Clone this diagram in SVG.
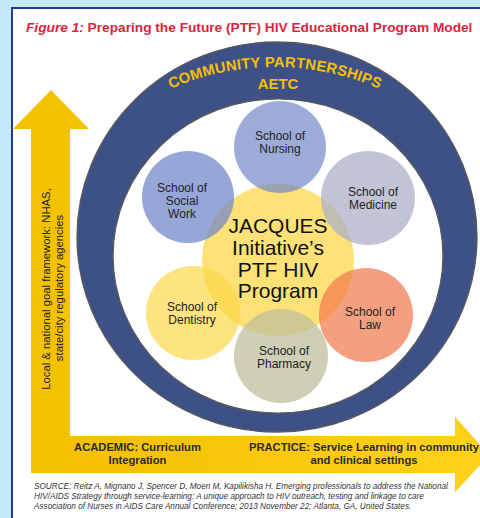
<svg xmlns="http://www.w3.org/2000/svg" width="480" height="518" viewBox="0 0 480 518">
  <defs>
    <linearGradient id="hgrad" x1="0" y1="0" x2="1" y2="0">
      <stop offset="0" stop-color="#f4c000"/>
      <stop offset="1" stop-color="#ffd21a"/>
    </linearGradient>
    <path id="ringArc" d="M15,327 A260,260 0 0 1 535,327"/>
  </defs>
  <style>
    .sat { font-family: "Liberation Sans", Arial, sans-serif; font-size: 12px; fill: #222; text-anchor: middle; }
    .core { font-family: "Liberation Sans", Arial, sans-serif; font-size: 21px; fill: #111; text-anchor: middle; }
    .ringtxt { font-family: "Liberation Sans", Arial, sans-serif; font-size: 14.8px; font-weight: bold; fill: #f6c000; }
    .axis { font-family: "Liberation Sans", Arial, sans-serif; font-size: 11.2px; font-weight: bold; fill: #2a2a2a; text-anchor: middle; }
    .src { font-family: "Liberation Sans", Arial, sans-serif; font-size: 8.2px; font-style: italic; fill: #333; }
  </style>

  <!-- background & frame -->
  <rect x="0" y="0" width="480" height="518" fill="#c6e9f9"/>
  <rect x="12" y="8" width="480" height="530" fill="#ffffff" stroke="#1f3c96" stroke-width="2"/>

  <!-- title -->
  <text x="26" y="32" font-family="'Liberation Sans', Arial, sans-serif" font-size="13.7" font-weight="bold" fill="#d7263d"><tspan font-style="italic">Figure 1:</tspan> Preparing the Future (PTF) HIV Educational Program Model</text>

  <!-- axes arrows -->
  <g id="axes">
    <polygon points="51,90 89,129 70,129 70,436 455,436 455,417 489,455 455,492 455,473 31,473 31,129 13,129" fill="#f4c200"/>
    <polygon points="70,436 455,436 455,417 489,455 455,492 455,473 70,473" fill="url(#hgrad)"/>
  </g>

  <!-- community ring -->
  <g id="ring">
    <path d="M77,237 A200,195 0 1 0 477,237 A200,195 0 1 0 77,237 Z M113,256 A165,157 0 1 1 443,256 A165,157 0 1 1 113,256 Z" fill="#3e5186" fill-rule="evenodd" stroke="#5a5a5a" stroke-width="1.3"/>
    <text class="ringtxt" letter-spacing="0.2"><textPath href="#ringArc" startOffset="50%" text-anchor="middle">COMMUNITY PARTNERSHIPS</textPath></text>
    <text class="ringtxt" x="278" y="89" text-anchor="middle">AETC</text>
  </g>

  <!-- central program -->
  <g id="core">
    <circle cx="278" cy="260" r="76" fill="#fdd84a" fill-opacity="0.75"/>
  </g>

  <g id="nursing">
    <circle cx="280" cy="147" r="46" fill="#7388c8" fill-opacity="0.7"/>
    <text class="sat" x="280" y="140">School of</text>
    <text class="sat" x="280" y="153">Nursing</text>
  </g>
  <g id="social-work">
    <circle cx="188" cy="197" r="46" fill="#7388c8" fill-opacity="0.75"/>
    <text class="sat" x="182" y="192">School of</text>
    <text class="sat" x="182" y="205">Social</text>
    <text class="sat" x="182" y="218">Work</text>
  </g>
  <g id="medicine">
    <circle cx="368" cy="198" r="47" fill="#aeb0c8" fill-opacity="0.75"/>
    <text class="sat" x="373" y="196">School of</text>
    <text class="sat" x="373" y="209">Medicine</text>
  </g>
  <g id="dentistry">
    <circle cx="193" cy="313" r="47" fill="#fdd84a" fill-opacity="0.7"/>
    <text class="sat" x="192" y="311">School of</text>
    <text class="sat" x="192" y="324">Dentistry</text>
  </g>
  <g id="law">
    <circle cx="366" cy="315" r="47" fill="#f0784a" fill-opacity="0.7"/>
    <text class="sat" x="370" y="316">School of</text>
    <text class="sat" x="370" y="329">Law</text>
  </g>
  <g id="pharmacy">
    <circle cx="281" cy="356" r="47" fill="#bfbf9c" fill-opacity="0.75"/>
    <text class="sat" x="284" y="355">School of</text>
    <text class="sat" x="284" y="368">Pharmacy</text>
  </g>

  <g id="core-label">
    <text class="core" x="278" y="233">JACQUES</text>
    <text class="core" x="278" y="255">Initiative’s</text>
    <text class="core" x="278" y="277">PTF HIV</text>
    <text class="core" x="278" y="298">Program</text>
  </g>

  <!-- axis labels -->
  <g id="axis-labels">
    <text font-family="'Liberation Sans', Arial, sans-serif" font-size="11.3" fill="#222" text-anchor="middle" transform="translate(50,289) rotate(-90)">Local &amp;  national goal framework: NHAS,</text>
    <text font-family="'Liberation Sans', Arial, sans-serif" font-size="11.3" fill="#222" text-anchor="middle" transform="translate(63,288) rotate(-90)">state/city regulatory agencies</text>
    <text class="axis" x="137.5" y="451">ACADEMIC: Curriculum</text>
    <text class="axis" x="137.5" y="463.5">Integration</text>
    <text class="axis" x="364" y="451">PRACTICE: Service Learning in community</text>
    <text class="axis" x="364" y="463.5">and clinical settings</text>
  </g>

  <!-- source -->
  <g id="source">
    <text class="src" x="34" y="489">SOURCE: Reitz A, Mignano J, Spencer D, Moen M, Kapilikisha H. Emerging professionals to address the National</text>
    <text class="src" x="34" y="499">HIV/AIDS Strategy through  service-learning: A unique approach to HIV outreach, testing and linkage to care</text>
    <text class="src" x="34" y="509">Association of Nurses in AIDS Care Annual Conference; 2013 November 22; Atlanta, GA, United States.</text>
  </g>
</svg>
